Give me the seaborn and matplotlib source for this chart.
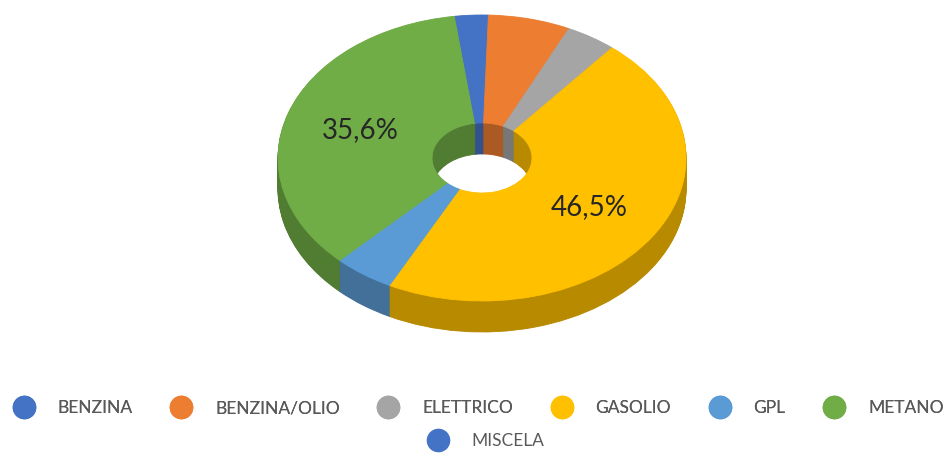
import matplotlib
matplotlib.use('Agg')
import matplotlib as mpl
import matplotlib.pyplot as plt
from matplotlib.lines import Line2D
import numpy as np
import seaborn as sns

# quota per alimentazione (%)
categories = ['BENZINA', 'BENZINA/OLIO', 'ELETTRICO', 'GASOLIO', 'GPL', 'METANO', 'MISCELA']
shares = [0.5, 6.5, 4.0, 46.5, 4.8, 35.6, 2.1]
colors = ['#4472C4', '#ED7D31', '#A5A5A5', '#FFC000', '#5B9BD5', '#70AD47', '#4472C4']

sns.set_theme(style='white')
plt.rcParams['font.family'] = ['Lato', 'DejaVu Sans']

side_colors = [tuple(c * 0.72 for c in mpl.colors.to_rgb(h)) for h in colors]

fig = plt.figure(figsize=(9.53, 4.55), dpi=100)
ax = fig.add_axes([0, 0, 1, 1])

# ellipse geometry in pixels: centre, semi axes, thickness
cx, cy, a, b = 482, 158, 204, 143
depth = 31 / b
hole = 0.245

# fake 3D: stack darker donuts downward to build the side walls
for dz in np.linspace(-depth, 0, 40)[:-1]:
    wedges, _ = ax.pie(shares, colors=side_colors, startangle=90, counterclock=False,
                       center=(0, dz), wedgeprops=dict(width=1 - hole, linewidth=0.6))
    for w in wedges:
        w.set_edgecolor(w.get_facecolor())


def pct(v):
    return f'{v:.1f}'.replace('.', ',') + '%' if v > 10 else ''


wedges, texts, autotexts = ax.pie(shares, colors=colors, startangle=90, counterclock=False,
                                  center=(0, 0), wedgeprops=dict(width=1 - hole, linewidth=0.6),
                                  autopct=pct, pctdistance=0.63,
                                  textprops=dict(fontsize=20, color='#262626'))
for w in wedges:
    w.set_edgecolor(w.get_facecolor())

ax.set_aspect('auto')
ax.set_xlim(-cx / a, (953 - cx) / a)
ax.set_ylim((cy - 455) / b, cy / b)
ax.axis('off')

handles = [Line2D([], [], ls='', marker='o', markersize=16, markerfacecolor=c, markeredgecolor=c)
           for c in colors]
leg_kw = dict(loc='center', frameon=False, fontsize=12.5, labelcolor='#595959',
              handletextpad=1.35, columnspacing=2.2, handlelength=1.2)
leg1 = fig.legend(handles[:6], categories[:6], ncol=6, bbox_to_anchor=(0.502, 1 - 408 / 455), **leg_kw)
fig.add_artist(leg1)
fig.legend(handles[6:], categories[6:], bbox_to_anchor=(0.51, 1 - 441 / 455), **leg_kw)

fig.savefig('out.png', dpi=100)
